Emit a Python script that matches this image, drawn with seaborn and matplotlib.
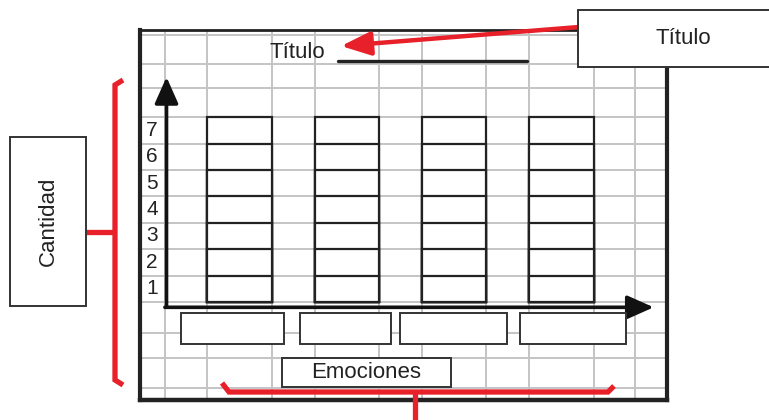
import numpy as np
import matplotlib
matplotlib.use("Agg")
import matplotlib.pyplot as plt
from matplotlib.patches import Rectangle
import pandas as pd
import seaborn as sns

# template data: four empty emotion slots, each column has 7 unit cells
categories = ["E1", "E2", "E3", "E4"]
levels = [1, 2, 3, 4, 5, 6, 7]
tick_labels = ["1", "2", "3", "4", "5", "6", "7"]
title_text = "Título"
x_title = "Emociones"
y_title = "Cantidad"

sns.set_theme(style="white")
plt.rcParams['font.family'] = ['Liberation Sans', 'DejaVu Sans']

RED = "#e8202a"
INK = "#222222"
GRID = "#c4c4c6"

fig = plt.figure(figsize=(7.69, 4.2), dpi=100)
W, H = 769, 420

# main axes = the framed grid area (pixels 140..667 x 30..400)
ax = fig.add_axes([140 / W, (H - 400) / H, 527 / W, 370 / H])
ax.set_xlim(-0.927, 3.984)
ax.set_ylim(-3.71, 10.3)

# grid
xgrid = [-0.69, 3.69] + [i + d for i in range(len(categories)) for d in (-0.3, 0.3)]
ygrid = [10.11, 9.02, 8.1] + list(levels) + [0, -1.17, -2.12, -3.26]
for gx in xgrid:
    ax.axvline(gx, color=GRID, lw=1.4, zorder=0)
for gy in ygrid:
    ax.axhline(gy, color=GRID, lw=1.4, zorder=0)

# stacked unit cells: overlay bars from tallest to shortest
for lv in sorted(levels, reverse=True):
    df = pd.DataFrame({"cat": categories, "val": [lv] * len(categories)})
    sns.barplot(data=df, x="cat", y="val", order=categories, color="white",
                edgecolor=INK, linewidth=1.6, width=0.6, saturation=1,
                ax=ax, zorder=2)

ax.set_xlim(-0.927, 3.984)
ax.set_ylim(-3.71, 10.3)
ax.set_xlabel("")
ax.set_ylabel("")
ax.set_xticks([])
ax.set_yticks([])

for lv, lab in zip(levels, tick_labels):
    ax.text(-0.815, lv - 0.5, lab, ha="center", va="center", fontsize=15, color=INK)

# axis arrows
arrow = dict(arrowstyle="-|>,head_length=0.9,head_width=0.4", lw=2.6, color="#111111",
             mutation_scale=18, shrinkA=0, shrinkB=0)
ax.annotate("", xy=(-0.68, 8.52), xytext=(-0.68, -0.2), arrowprops=arrow, zorder=5)
ax.annotate("", xy=(3.86, -0.2), xytext=(-0.695, -0.2), arrowprops=arrow, zorder=5)

for side, lw in [("left", 3.0), ("right", 3.0), ("bottom", 3.2), ("top", 2.0)]:
    ax.spines[side].set_visible(True)
    ax.spines[side].set_color(INK)
    ax.spines[side].set_linewidth(lw)

# annotation layer in pixel coordinates
ov = fig.add_axes([0, 0, 1, 1], facecolor="none")
ov.set_xlim(0, W)
ov.set_ylim(H, 0)
ov.axis("off")

def box(x0, y0, x1, y1):
    ov.add_patch(Rectangle((x0, y0), x1 - x0, y1 - y0, facecolor="white",
                           edgecolor="#333333", lw=1.4, zorder=3, clip_on=False))

# empty label boxes under each column
for x0, x1 in [(181, 284), (300, 391), (400, 507), (520, 626)]:
    box(x0, 313, x1, 344)

# chart title and its line
ov.text(297, 52, title_text, ha="center", va="center", fontsize=16, color=INK)
ov.plot([338, 527], [61, 61], color=INK, lw=2.4)

# x axis name box
box(282, 358, 451, 387)
ov.text(366.5, 372.5, x_title, ha="center", va="center", fontsize=16, color=INK, zorder=4)

# y axis name box
box(10, 137, 86, 306)
ov.text(48, 221, y_title, ha="center", va="center", rotation=90, fontsize=16,
        color=INK, zorder=4)

# title callout box
box(578, 10, 775, 67)
ov.text(683, 39, title_text, ha="center", va="center", fontsize=16, color=INK, zorder=4)

# red brackets and pointer
rlw = 3.8
ov.plot([123, 115, 115, 123], [80, 85, 380, 385], color=RED, lw=rlw,
        solid_joinstyle="miter", solid_capstyle="butt")
ov.plot([86, 115], [232, 232], color=RED, lw=rlw, solid_capstyle="butt")
ov.plot([222, 229, 608, 614], [383, 392, 392, 386], color=RED, lw=rlw,
        solid_joinstyle="miter", solid_capstyle="butt")
ov.plot([415, 415], [392, 422], color=RED, lw=rlw, solid_capstyle="butt", clip_on=False)
ov.annotate("", xy=(341, 46), xytext=(579, 27),
            arrowprops=dict(arrowstyle="-|>,head_length=1.0,head_width=0.4", lw=3.2,
                            color=RED, mutation_scale=18, shrinkA=0, shrinkB=0),
            zorder=2)

fig.savefig("out.png", dpi=100)
